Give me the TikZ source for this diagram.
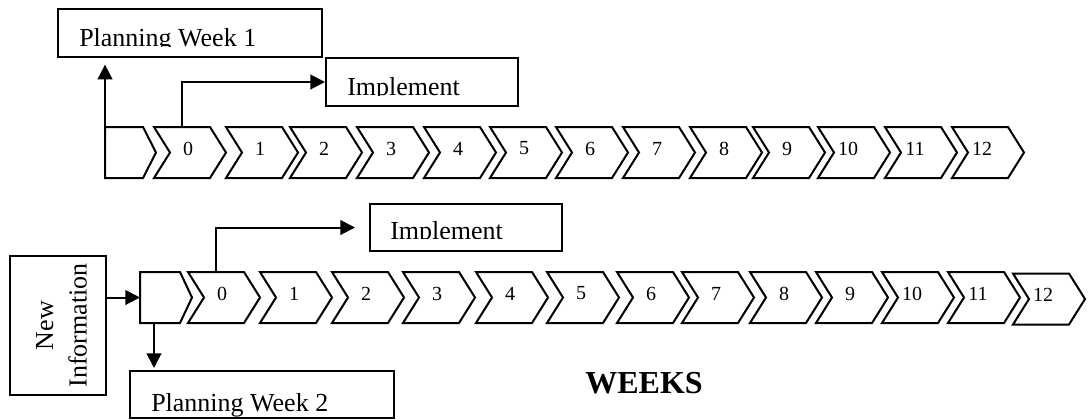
\documentclass[tikz,border=0pt]{standalone}
\usepackage{fontspec}
\setmainfont{Liberation Serif}
\usetikzlibrary{arrows.meta,calc}
\tikzset{
  shape line/.style={draw=black, line width=1.5pt, line join=miter},
  conn/.style={draw=black, line width=1.5pt, -{Triangle[length=11pt,width=11pt]}},
  box/.style={draw=black, line width=1.5pt, inner sep=0pt},
  daylabel/.style={font=\fontsize{15}{15}\selectfont, inner sep=0pt},
  boxtext/.style={font=\fontsize{19.5}{22}\selectfont, inner sep=0pt, anchor=base west},
}
% one week chevron: name, left x, middle y, label, label offset
\newcommand\weekchev[5]{%
  \draw[shape line] (#2,#3-25.5) -- ++(56,0) -- ++(16,25.5) -- ++(-16,25.5)
    -- ++(-56,0) -- ++(16,-25.5) -- cycle;
  \node[daylabel] (#1) at (#2+#5,#3-4) {#4};
}
\begin{document}
\begin{tikzpicture}[x=0.75pt,y=-0.75pt]
\useasboundingbox (0,0) rectangle (1088,419);

% ---------- first cycle ----------
\draw[shape line] (105,127) -- (143,127) -- (156,152.5) -- (143,178) -- (105,178) -- cycle;
\coordinate (s1nw) at (105,127);
\foreach \n/\x/\o in {0/154/34,1/226/34,2/290/34,3/357/34,4/424/34,5/490/34,6/556/34,
                      7/623/34,8/690/34,9/753/34,10/818/30,11/885/30,12/952/30}{
  \weekchev{a\n}{\x}{152.5}{\n}{\o}
}
\coordinate (a0top) at (182,127);

\node[box, minimum width=198pt, minimum height=36pt] (pw1) at (190,33) {};
\begin{scope}
  \clip (58,9) rectangle (322,46);
  \node[boxtext] (pw1t) at (79,46.5) {Planning Week 1};
\end{scope}

\node[box, minimum width=144pt, minimum height=36pt] (im1) at (422,82) {};
\begin{scope}
  \clip (326,58) rectangle (518,95);
  \node[boxtext] (im1t) at (347,95.5) {Implement};
\end{scope}

\draw[conn, shorten >=5pt] (s1nw) -- (s1nw |- pw1.south);
\draw[conn] (a0top) |- (im1.west);

% ---------- second cycle ----------
\draw[shape line] (140,272) -- (180,272) -- (192,297.5) -- (180,323) -- (140,323) -- cycle;
\coordinate (s2w) at (140,297.5);
\coordinate (s2b) at (154,323);
\foreach \n/\x/\o in {0/188/34,1/260/34,2/332/34,3/403/34,4/476/34,5/547/34,6/617/34,
                      7/682/34,8/750/34,9/816/34,10/882/30,11/948/30}{
  \weekchev{b\n}{\x}{297.5}{\n}{\o}
}
\weekchev{b12}{1013}{299}{12}{30}
\coordinate (b0top) at (216,272);

\node[box, minimum width=72pt, minimum height=104pt] (ni) at (58,325.5) {};
\node[font=\fontsize{19.5}{25}\selectfont, align=center, rotate=90, inner sep=0pt] (nit)
  at (61.5,325.5) {New\\Information};

\node[box, minimum width=144pt, minimum height=35.25pt] (im2) at (466,227.5) {};
\begin{scope}
  \clip (370,204) rectangle (562,238);
  \node[boxtext] (im2t) at (390,239) {Implement};
\end{scope}

\node[box, minimum width=198pt, minimum height=35.25pt] (pw2) at (262,394.5) {};
\begin{scope}
  \clip (130,371) rectangle (394,418);
  \node[boxtext] (pw2t) at (151,411) {Planning Week 2};
\end{scope}

\draw[conn] (ni.east |- s2w) -- (s2w);
\draw[conn, shorten >=1.5pt] (s2b) -- (s2b |- pw2.north);
\draw[conn, shorten >=10.5pt] (b0top) |- (im2.west);

\node[font=\bfseries\fontsize{24}{24}\selectfont, inner sep=0pt] (weeks) at (644,383) {WEEKS};
\end{tikzpicture}
\end{document}
